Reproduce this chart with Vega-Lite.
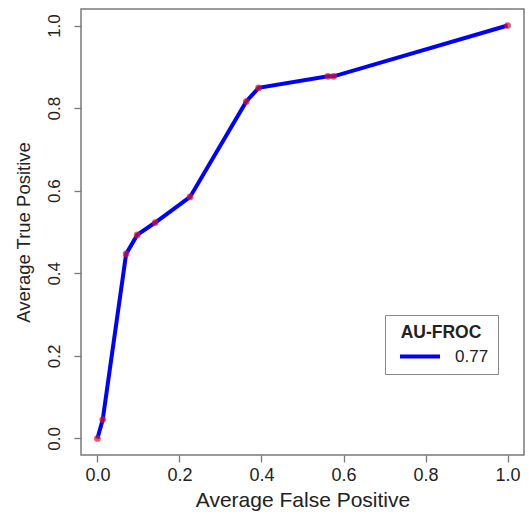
{
  "$schema": "https://vega.github.io/schema/vega-lite/v6.json",
  "width": 443,
  "height": 446,
  "autosize": {"type": "none"},
  "padding": {"left": 81, "top": 9, "right": 5, "bottom": 62},
  "background": "white",
  "config": {
    "font": "Liberation Sans",
    "view": {"stroke": "#7a7a7a", "strokeWidth": 1.5},
    "axis": {
      "grid": false,
      "domain": false,
      "tickColor": "#7a7a7a",
      "tickWidth": 1.3,
      "tickSize": 7,
      "labelColor": "#222",
      "titleColor": "#222",
      "labelFont": "Liberation Sans",
      "titleFont": "Liberation Sans",
      "titleFontWeight": "normal"
    }
  },
  "data": {
    "values": [
      {"fp": 0.0, "tp": 0.0},
      {"fp": 0.013, "tp": 0.046},
      {"fp": 0.070, "tp": 0.447},
      {"fp": 0.097, "tp": 0.493},
      {"fp": 0.141, "tp": 0.523},
      {"fp": 0.226, "tp": 0.585},
      {"fp": 0.363, "tp": 0.816},
      {"fp": 0.393, "tp": 0.849},
      {"fp": 0.562, "tp": 0.877},
      {"fp": 0.576, "tp": 0.877},
      {"fp": 1.0, "tp": 1.0}
    ]
  },
  "encoding": {
    "x": {
      "field": "fp", "type": "quantitative",
      "scale": {"domain": [-0.04, 1.04], "nice": false, "zero": false},
      "axis": {
        "title": "Average False Positive",
        "values": [0, 0.2, 0.4, 0.6, 0.8, 1.0],
        "format": ".1f",
        "labelFontSize": 18,
        "labelPadding": 4,
        "titleFontSize": 21,
        "titlePadding": 5
      }
    },
    "y": {
      "field": "tp", "type": "quantitative",
      "scale": {"domain": [-0.04, 1.04], "nice": false, "zero": false},
      "axis": {
        "title": "Average True Positive",
        "values": [0, 0.2, 0.4, 0.6, 0.8, 1.0],
        "format": ".1f",
        "labelAngle": -90,
        "labelAlign": "center",
        "labelBaseline": "bottom",
        "labelFontSize": 17,
        "labelPadding": 11,
        "titleFontSize": 18.5,
        "titlePadding": 12
      }
    }
  },
  "layer": [
    {
      "mark": {"type": "line", "strokeWidth": 4},
      "encoding": {
        "color": {
          "datum": "0.77",
          "scale": {"range": ["#0000ff"]},
          "legend": {
            "title": "AU-FROC",
            "orient": "none",
            "legendX": 304,
            "legendY": 306,
            "strokeColor": "#8a8a8a",
            "fillColor": "white",
            "padding": 9,
            "titleAnchor": "middle",
            "titleFontSize": 17.5,
            "titleFontWeight": "bold",
            "titleColor": "#222",
            "titlePadding": 5,
            "labelFontSize": 17,
            "labelColor": "#222",
            "labelOffset": 25,
            "symbolType": "M-2.5,0H2.5",
            "symbolSize": 256,
            "symbolStrokeWidth": 4,
            "symbolOffset": 16
          }
        }
      }
    },
    {
      "mark": {"type": "point", "filled": true, "size": 45, "color": "#e0102a", "opacity": 0.7}
    }
  ]
}
